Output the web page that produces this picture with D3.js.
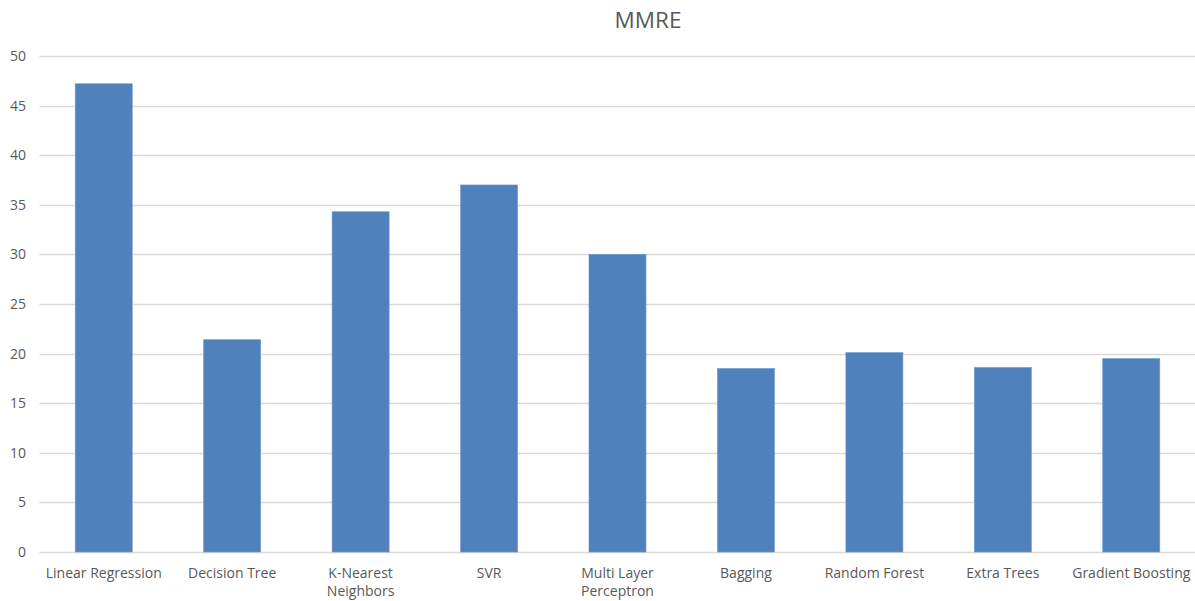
<!DOCTYPE html>
<html>
<head>
<meta charset="utf-8">
<script src="https://cdn.jsdelivr.net/npm/d3@7"></script>
<style>
  html, body { margin: 0; padding: 0; background: #fff; }
  svg { display: block; }
  text { font-family: "Open Sans", "Noto Sans", sans-serif; fill: #595959; }
</style>
</head>
<body>
<svg id="chart" width="1195" height="601"></svg>
<script>
// Models compared and their MMRE scores
const categories = ["Linear Regression", "Decision Tree", "K-Nearest Neighbors", "SVR",
  "Multi Layer Perceptron", "Bagging", "Random Forest", "Extra Trees", "Gradient Boosting"];
const mmre = [47.2, 21.4, 34.3, 37.0, 30.0, 18.5, 20.1, 18.6, 19.5];
// Axis tick labels, with category labels split into lines as they are wrapped
const yTicks = [0, 5, 10, 15, 20, 25, 30, 35, 40, 45, 50];
const tickLines = [["Linear Regression"], ["Decision Tree"], ["K-Nearest", "Neighbors"], ["SVR"],
  ["Multi Layer", "Perceptron"], ["Bagging"], ["Random Forest"], ["Extra Trees"], ["Gradient Boosting"]];
const title = "MMRE";

const svg = d3.select("#chart");
const plotLeft = 39.5, plotRight = 1195.5, plotTop = 56, plotBottom = 552;

const x = d3.scaleBand().domain(categories).range([plotLeft, plotRight]).paddingInner(0.556).paddingOuter(0.278);
const y = d3.scaleLinear().domain([0, 50]).range([plotBottom, plotTop]);

// Horizontal gridlines
svg.append("g").selectAll("line").data(yTicks).join("line")
  .attr("x1", plotLeft).attr("x2", plotRight)
  .attr("y1", d => Math.round(y(d)) + 0.5).attr("y2", d => Math.round(y(d)) + 0.5)
  .attr("stroke", "#d9d9d9").attr("stroke-width", 1.3);

// Y axis labels
const yAxis = d3.axisLeft(y).tickValues(yTicks).tickSize(0).tickPadding(0);
const gy = svg.append("g").attr("transform", "translate(26,0)").call(yAxis);
gy.select(".domain").remove();
gy.selectAll("text").style("font-size", "14px").attr("fill", "#595959")
  .style("font-family", "'Open Sans', sans-serif");

// Bars
svg.append("g").selectAll("rect").data(mmre).join("rect")
  .attr("x", (d, i) => x(categories[i]))
  .attr("width", x.bandwidth())
  .attr("y", d => y(d))
  .attr("height", d => y(0) - y(d))
  .attr("fill", "#4f81bd")
  .attr("stroke", "#6f97cc").attr("stroke-width", 0.6);

// Category labels
const gx = svg.append("g").attr("transform", `translate(0,${plotBottom})`)
  .call(d3.axisBottom(x).tickSize(0).tickFormat(() => ""));
gx.select(".domain").remove();
gx.selectAll(".tick").each(function(d, i) {
  const t = d3.select(this).select("text")
    .attr("y", 0).attr("dy", null)
    .style("font-size", "14px").style("font-family", "'Open Sans', sans-serif")
    .attr("fill", "#595959");
  tickLines[i].forEach((line, j) => {
    t.append("tspan").attr("x", 0).attr("y", 26 + j * 18).text(line);
  });
});

// Title
svg.append("text").attr("x", 648).attr("y", 28).attr("text-anchor", "middle")
  .style("font-size", "22.5px").text(title);
</script>
</body>
</html>
